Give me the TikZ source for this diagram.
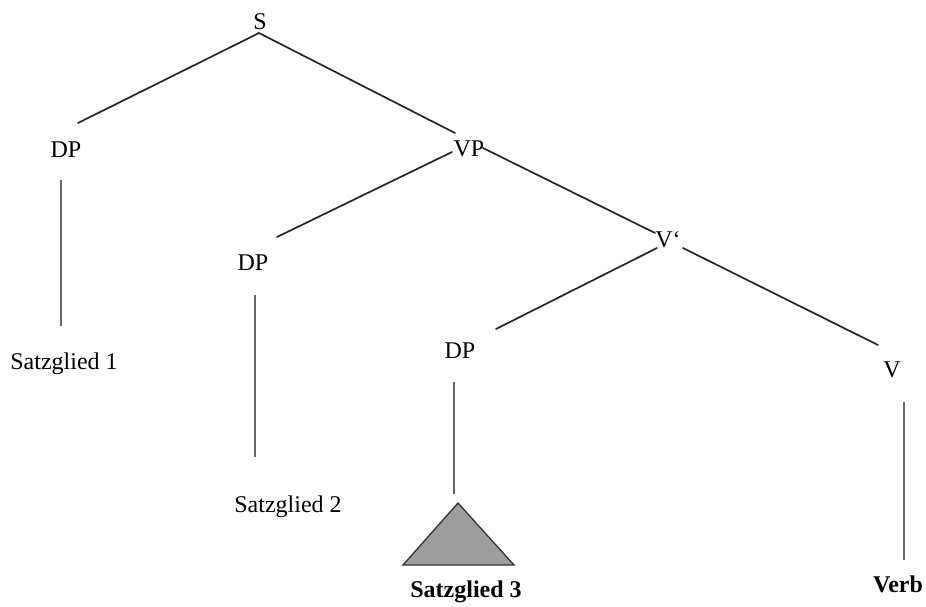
\documentclass[tikz,border=0pt]{standalone}
\usepackage{fontspec}
\setmainfont{Liberation Serif}
\begin{document}
\begin{tikzpicture}[x=1pt,y=-1pt,
  lab/.style={anchor=base, inner sep=0pt, font=\fontsize{24}{28}\selectfont},
  blab/.style={lab, font=\fontsize{24}{28}\selectfont\bfseries},
  edge/.style={line width=1.7pt, color=black!85, line cap=round},
  stem/.style={line width=1.2pt, color=black!60},
  tri/.style={line width=1.3pt, draw=black!80, fill=black!38, line join=miter}]
\useasboundingbox (0,0) rectangle (926,606);
% labels
\node[lab] (S) at (260,29) {S};
\node[lab] (DP1) at (66,157) {DP};
\node[lab] (VP) at (469,156) {VP};
\node[lab] (DP2) at (253,270) {DP};
\node[lab] (Vbar) at (668,247) {V‘};
\node[lab] (DP3) at (460,358) {DP};
\node[lab] (V) at (892,377) {V};
\node[lab] (SG1) at (64,369) {Satzglied 1};
\node[lab] (SG2) at (288,512) {Satzglied 2};
\node[blab] (SG3) at (466,597) {Satzglied 3};
\node[blab] (Verb) at (898,592) {Verb};
% connector ends
\coordinate (S-b) at (259,33);
\coordinate (DP1-t) at (78,123);
\coordinate (VP-tl) at (455,133);
\coordinate (VP-bl) at (452,152);
\coordinate (DP2-t) at (277,237);
\coordinate (VP-br) at (483,148);
\coordinate (Vbar-tl) at (655,233);
\coordinate (Vbar-bl) at (657,248);
\coordinate (DP3-t) at (496,329);
\coordinate (Vbar-br) at (683,248);
\coordinate (V-t) at (878,345);
\coordinate (DP1-b) at (61,180);
\coordinate (SG1-t) at (61,326);
\coordinate (DP2-b) at (255,295);
\coordinate (SG2-t) at (255,457);
\coordinate (DP3-b) at (454,382);
\coordinate (T-t) at (454,494);
\coordinate (V-b) at (904,402);
\coordinate (Verb-t) at (904,560);
% edges
\draw[edge] (S-b) -- (DP1-t);
\draw[edge] (S-b) -- (VP-tl);
\draw[edge] (VP-bl) -- (DP2-t);
\draw[edge] (VP-br) -- (Vbar-tl);
\draw[edge] (Vbar-bl) -- (DP3-t);
\draw[edge] (Vbar-br) -- (V-t);
\draw[stem] (DP1-b) -- (SG1-t);
\draw[stem] (DP2-b) -- (SG2-t);
\draw[stem] (DP3-b) -- (T-t);
\draw[stem] (V-b) -- (Verb-t);
% triangle
\coordinate (T-a) at (458,503);
\coordinate (T-r) at (514,565);
\coordinate (T-l) at (403,565);
\draw[tri] (T-a) -- (T-r) -- (T-l) -- cycle;
\end{tikzpicture}
\end{document}
